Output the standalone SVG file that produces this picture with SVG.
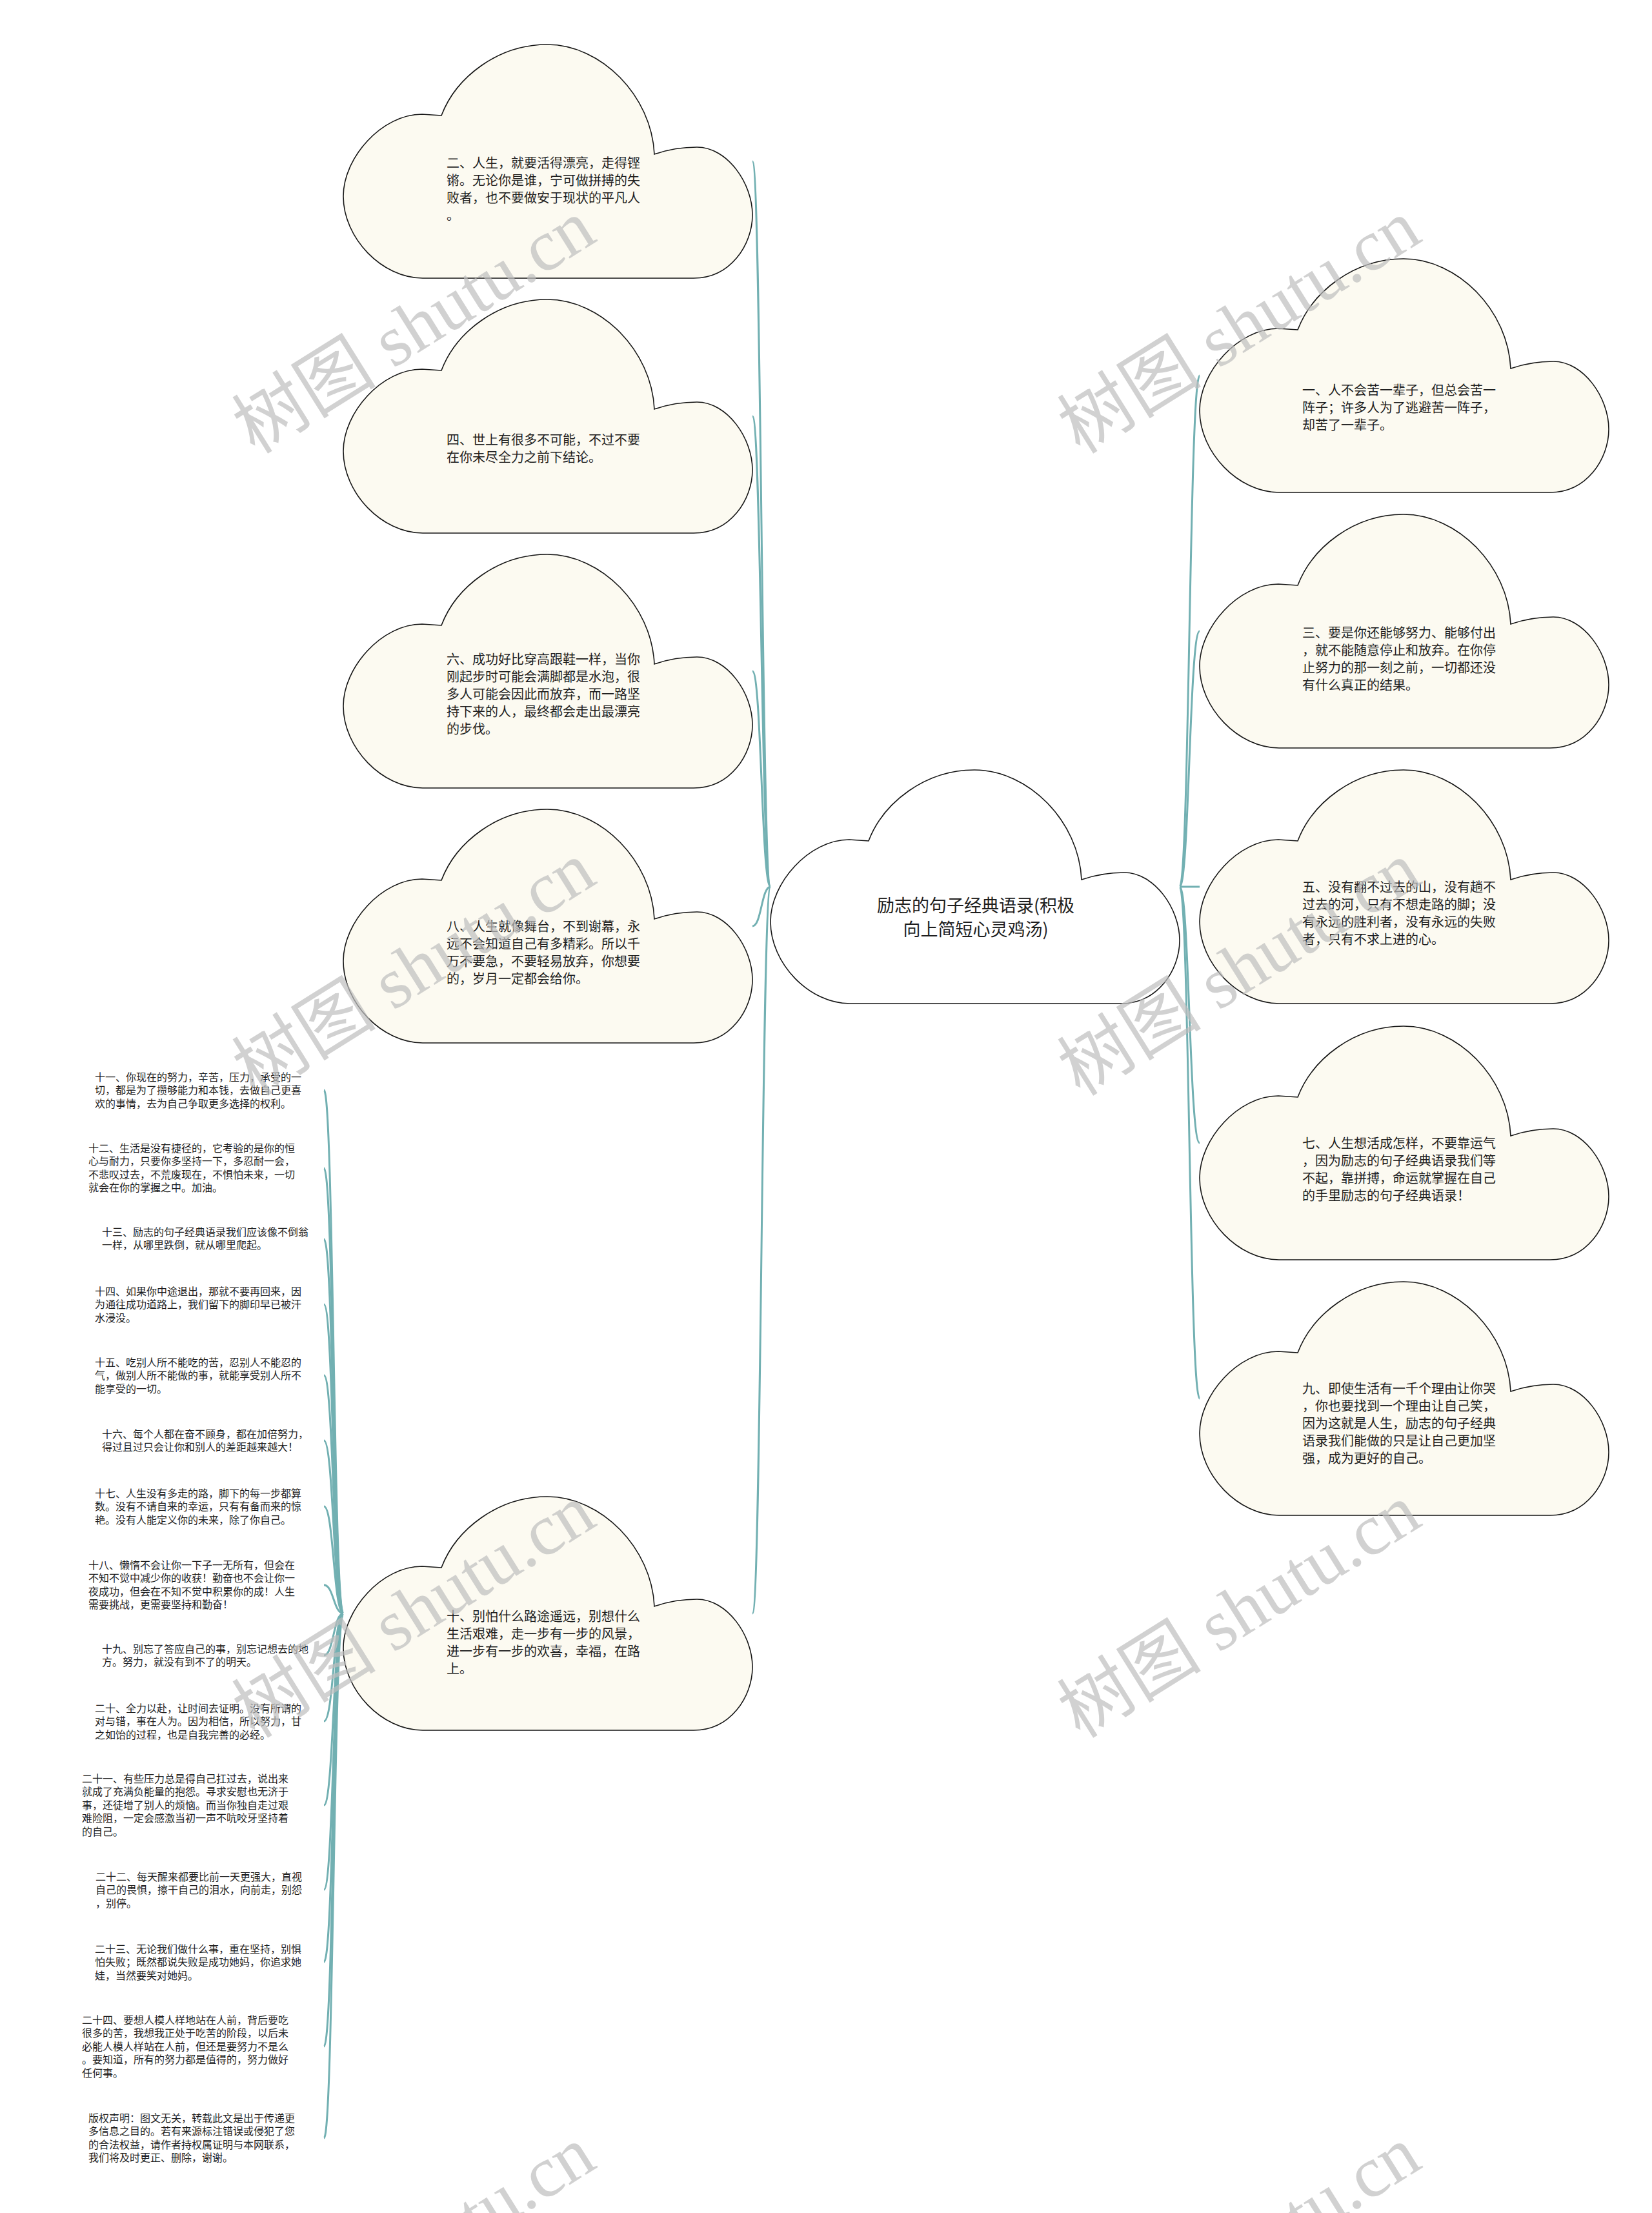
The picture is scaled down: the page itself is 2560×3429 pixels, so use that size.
<svg xmlns="http://www.w3.org/2000/svg" xmlns:xlink="http://www.w3.org/1999/xlink" width="2560" height="3429" viewBox="0 0 2560 3429">
<style>
.bg{fill:#ffffff}
.cloud{fill:#FCFAF1;stroke:#151515;stroke-width:1.6}
.rootc{fill:#ffffff;stroke:#151515;stroke-width:1.6}
.t{font-family:"Noto Sans CJK SC","Noto Sans",sans-serif;font-size:20px;fill:#1e1e1e}
.s{font-family:"Noto Sans CJK SC","Noto Sans",sans-serif;font-size:16px;fill:#1e1e1e}
.c{font-family:"Noto Sans CJK SC","Noto Sans",sans-serif;font-size:27px;fill:#1e1e1e;text-anchor:middle}
.link{fill:none;stroke:#72B0B2;stroke-width:3}
.wm{font-family:"Liberation Serif","Noto Sans CJK SC",serif;font-size:112px;fill:#bdbdbd;fill-opacity:0.7}
</style>
<defs>
<path id="cloud" d="M152,110 C175,50 240,0 316,0 C400,0 478,80 482,170 C505,162 525,159 548,159 C595,159 634,215 634,264 C634,310 600,362 543,362 L123,362 C60,362 0,300 0,235 C0,175 60,108 122,108 Z"/>
</defs>
<rect class="bg" x="0" y="0" width="2560" height="3429"/>

<g id="connectors">
<path class="link" d="M1194,1374 C1180,1374 1180,250 1166,250"/>
<path class="link" d="M1194,1374 C1180,1374 1180,645 1166,645"/>
<path class="link" d="M1194,1374 C1180,1374 1180,1040 1166,1040"/>
<path class="link" d="M1194,1374 C1180,1374 1180,1435 1166,1435"/>
<path class="link" d="M1194,1374 C1180,1374 1180,2500 1166,2500"/>
<path class="link" d="M1828,1374 C1843,1374 1843,582 1859,582"/>
<path class="link" d="M1828,1374 C1843,1374 1843,978 1859,978"/>
<path class="link" d="M1828,1374 C1843,1374 1843,1374 1859,1374"/>
<path class="link" d="M1828,1374 C1843,1374 1843,1771 1859,1771"/>
<path class="link" d="M1828,1374 C1843,1374 1843,2167 1859,2167"/>
<path class="link" d="M532,2500 C517,2500 517,1689 502,1689"/>
<path class="link" d="M532,2500 C517,2500 517,1810 502,1810"/>
<path class="link" d="M532,2500 C517,2500 517,1920 502,1920"/>
<path class="link" d="M532,2500 C517,2500 517,2021 502,2021"/>
<path class="link" d="M532,2500 C517,2500 517,2131 502,2131"/>
<path class="link" d="M532,2500 C517,2500 517,2232 502,2232"/>
<path class="link" d="M532,2500 C517,2500 517,2334 502,2334"/>
<path class="link" d="M532,2500 C517,2500 517,2456 502,2456"/>
<path class="link" d="M532,2500 C517,2500 517,2565 502,2565"/>
<path class="link" d="M532,2500 C517,2500 517,2667 502,2667"/>
<path class="link" d="M532,2500 C517,2500 517,2797 502,2797"/>
<path class="link" d="M532,2500 C517,2500 517,2928 502,2928"/>
<path class="link" d="M532,2500 C517,2500 517,3040 502,3040"/>
<path class="link" d="M532,2500 C517,2500 517,3171 502,3171"/>
<path class="link" d="M532,2500 C517,2500 517,3313 502,3313"/>
</g>

<g id="root" transform="translate(1194,1193)">
<use xlink:href="#cloud" class="rootc"/>
<text class="c" x="318" y="220">励志的句子经典语录(积极</text>
<text class="c" x="318" y="257">向上简短心灵鸡汤)</text>
</g>

<g id="n2" transform="translate(532,69)">
<use xlink:href="#cloud" class="cloud"/>
<text class="t" x="160" y="191"><tspan x="160">二、人生，就要活得漂亮，走得铿</tspan><tspan x="160" dy="27">锵。无论你是谁，宁可做拼搏的失</tspan><tspan x="160" dy="27">败者，也不要做安于现状的平凡人</tspan><tspan x="160" dy="27">。</tspan></text>
</g>
<g id="n4" transform="translate(532,464)">
<use xlink:href="#cloud" class="cloud"/>
<text class="t" x="160" y="225"><tspan x="160">四、世上有很多不可能，不过不要</tspan><tspan x="160" dy="27">在你未尽全力之前下结论。</tspan></text>
</g>
<g id="n6" transform="translate(532,859)">
<use xlink:href="#cloud" class="cloud"/>
<text class="t" x="160" y="170"><tspan x="160">六、成功好比穿高跟鞋一样，当你</tspan><tspan x="160" dy="27">刚起步时可能会满脚都是水泡，很</tspan><tspan x="160" dy="27">多人可能会因此而放弃，而一路坚</tspan><tspan x="160" dy="27">持下来的人，最终都会走出最漂亮</tspan><tspan x="160" dy="27">的步伐。</tspan></text>
</g>
<g id="n8" transform="translate(532,1254)">
<use xlink:href="#cloud" class="cloud"/>
<text class="t" x="160" y="189"><tspan x="160">八、人生就像舞台，不到谢幕，永</tspan><tspan x="160" dy="27">远不会知道自己有多精彩。所以千</tspan><tspan x="160" dy="27">万不要急，不要轻易放弃，你想要</tspan><tspan x="160" dy="27">的，岁月一定都会给你。</tspan></text>
</g>
<g id="n10" transform="translate(532,2319)">
<use xlink:href="#cloud" class="cloud"/>
<text class="t" x="160" y="193"><tspan x="160">十、别怕什么路途遥远，别想什么</tspan><tspan x="160" dy="27">生活艰难，走一步有一步的风景，</tspan><tspan x="160" dy="27">进一步有一步的欢喜，幸福，在路</tspan><tspan x="160" dy="27">上。</tspan></text>
</g>

<g id="n1" transform="translate(1859,401)">
<use xlink:href="#cloud" class="cloud"/>
<text class="t" x="159" y="211"><tspan x="159">一、人不会苦一辈子，但总会苦一</tspan><tspan x="159" dy="27">阵子；许多人为了逃避苦一阵子，</tspan><tspan x="159" dy="27">却苦了一辈子。</tspan></text>
</g>
<g id="n3" transform="translate(1859,797)">
<use xlink:href="#cloud" class="cloud"/>
<text class="t" x="159" y="191"><tspan x="159">三、要是你还能够努力、能够付出</tspan><tspan x="159" dy="27">，就不能随意停止和放弃。在你停</tspan><tspan x="159" dy="27">止努力的那一刻之前，一切都还没</tspan><tspan x="159" dy="27">有什么真正的结果。</tspan></text>
</g>
<g id="n5" transform="translate(1859,1193)">
<use xlink:href="#cloud" class="cloud"/>
<text class="t" x="159" y="189"><tspan x="159">五、没有翻不过去的山，没有趟不</tspan><tspan x="159" dy="27">过去的河，只有不想走路的脚；没</tspan><tspan x="159" dy="27">有永远的胜利者，没有永远的失败</tspan><tspan x="159" dy="27">者，只有不求上进的心。</tspan></text>
</g>
<g id="n7" transform="translate(1859,1590)">
<use xlink:href="#cloud" class="cloud"/>
<text class="t" x="159" y="189"><tspan x="159">七、人生想活成怎样，不要靠运气</tspan><tspan x="159" dy="27">，因为励志的句子经典语录我们等</tspan><tspan x="159" dy="27">不起，靠拼搏，命运就掌握在自己</tspan><tspan x="159" dy="27">的手里励志的句子经典语录！</tspan></text>
</g>
<g id="n9" transform="translate(1859,1986)">
<use xlink:href="#cloud" class="cloud"/>
<text class="t" x="159" y="173"><tspan x="159">九、即使生活有一千个理由让你哭</tspan><tspan x="159" dy="27">，你也要找到一个理由让自己笑，</tspan><tspan x="159" dy="27">因为这就是人生，励志的句子经典</tspan><tspan x="159" dy="27">语录我们能做的只是让自己更加坚</tspan><tspan x="159" dy="27">强，成为更好的自己。</tspan></text>
</g>

<g id="n11"><text class="s" x="147" y="1675"><tspan x="147">十一、你现在的努力，辛苦，压力，承受的一</tspan><tspan x="147" dy="20.4">切，都是为了攒够能力和本钱，去做自己更喜</tspan><tspan x="147" dy="20.4">欢的事情，去为自己争取更多选择的权利。</tspan></text></g>
<g id="n12"><text class="s" x="137" y="1785"><tspan x="137">十二、生活是没有捷径的，它考验的是你的恒</tspan><tspan x="137" dy="20.4">心与耐力，只要你多坚持一下，多忍耐一会，</tspan><tspan x="137" dy="20.4">不悲叹过去，不荒废现在，不惧怕未来，一切</tspan><tspan x="137" dy="20.4">就会在你的掌握之中。加油。</tspan></text></g>
<g id="n13"><text class="s" x="158" y="1915"><tspan x="158">十三、励志的句子经典语录我们应该像不倒翁</tspan><tspan x="158" dy="20.4">一样，从哪里跌倒，就从哪里爬起。</tspan></text></g>
<g id="n14"><text class="s" x="147" y="2007"><tspan x="147">十四、如果你中途退出，那就不要再回来，因</tspan><tspan x="147" dy="20.4">为通往成功道路上，我们留下的脚印早已被汗</tspan><tspan x="147" dy="20.4">水浸没。</tspan></text></g>
<g id="n15"><text class="s" x="147" y="2117"><tspan x="147">十五、吃别人所不能吃的苦，忍别人不能忍的</tspan><tspan x="147" dy="20.4">气，做别人所不能做的事，就能享受别人所不</tspan><tspan x="147" dy="20.4">能享受的一切。</tspan></text></g>
<g id="n16"><text class="s" x="158" y="2228"><tspan x="158">十六、每个人都在奋不顾身，都在加倍努力，</tspan><tspan x="158" dy="20.4">得过且过只会让你和别人的差距越来越大！</tspan></text></g>
<g id="n17"><text class="s" x="147" y="2320"><tspan x="147">十七、人生没有多走的路，脚下的每一步都算</tspan><tspan x="147" dy="20.4">数。没有不请自来的幸运，只有有备而来的惊</tspan><tspan x="147" dy="20.4">艳。没有人能定义你的未来，除了你自己。</tspan></text></g>
<g id="n18"><text class="s" x="137" y="2431"><tspan x="137">十八、懒惰不会让你一下子一无所有，但会在</tspan><tspan x="137" dy="20.4">不知不觉中减少你的收获！勤奋也不会让你一</tspan><tspan x="137" dy="20.4">夜成功，但会在不知不觉中积累你的成！人生</tspan><tspan x="137" dy="20.4">需要挑战，更需要坚持和勤奋！</tspan></text></g>
<g id="n19"><text class="s" x="158" y="2561"><tspan x="158">十九、别忘了答应自己的事，别忘记想去的地</tspan><tspan x="158" dy="20.4">方。努力，就没有到不了的明天。</tspan></text></g>
<g id="n20"><text class="s" x="147" y="2653"><tspan x="147">二十、全力以赴，让时间去证明。没有所谓的</tspan><tspan x="147" dy="20.4">对与错，事在人为。因为相信，所以努力，甘</tspan><tspan x="147" dy="20.4">之如饴的过程，也是自我完善的必经。</tspan></text></g>
<g id="n21"><text class="s" x="127" y="2762"><tspan x="127">二十一、有些压力总是得自己扛过去，说出来</tspan><tspan x="127" dy="20.4">就成了充满负能量的抱怨。寻求安慰也无济于</tspan><tspan x="127" dy="20.4">事，还徒增了别人的烦恼。而当你独自走过艰</tspan><tspan x="127" dy="20.4">难险阻，一定会感激当初一声不吭咬牙坚持着</tspan><tspan x="127" dy="20.4">的自己。</tspan></text></g>
<g id="n22"><text class="s" x="148" y="2914"><tspan x="148">二十二、每天醒来都要比前一天更强大，直视</tspan><tspan x="148" dy="20.4">自己的畏惧，擦干自己的泪水，向前走，别怨</tspan><tspan x="148" dy="20.4">，别停。</tspan></text></g>
<g id="n23"><text class="s" x="147" y="3026"><tspan x="147">二十三、无论我们做什么事，重在坚持，别惧</tspan><tspan x="147" dy="20.4">怕失败；既然都说失败是成功她妈，你追求她</tspan><tspan x="147" dy="20.4">娃，当然要笑对她妈。</tspan></text></g>
<g id="n24"><text class="s" x="127" y="3136"><tspan x="127">二十四、要想人模人样地站在人前，背后要吃</tspan><tspan x="127" dy="20.4">很多的苦，我想我正处于吃苦的阶段，以后未</tspan><tspan x="127" dy="20.4">必能人模人样站在人前，但还是要努力不是么</tspan><tspan x="127" dy="20.4">。要知道，所有的努力都是值得的，努力做好</tspan><tspan x="127" dy="20.4">任何事。</tspan></text></g>
<g id="n25"><text class="s" x="137" y="3288"><tspan x="137">版权声明：图文无关，转载此文是出于传递更</tspan><tspan x="137" dy="20.4">多信息之目的。若有来源标注错误或侵犯了您</tspan><tspan x="137" dy="20.4">的合法权益，请作者持权属证明与本网联系，</tspan><tspan x="137" dy="20.4">我们将及时更正、删除，谢谢。</tspan></text></g>

<g id="watermarks">
<text class="wm" transform="translate(395,705) rotate(-32)">树图 shutu.cn</text>
<text class="wm" transform="translate(1674,705) rotate(-32)">树图 shutu.cn</text>
<text class="wm" transform="translate(395,1700) rotate(-32)">树图 shutu.cn</text>
<text class="wm" transform="translate(1674,1700) rotate(-32)">树图 shutu.cn</text>
<text class="wm" transform="translate(395,2695) rotate(-32)">树图 shutu.cn</text>
<text class="wm" transform="translate(1674,2695) rotate(-32)">树图 shutu.cn</text>
<text class="wm" transform="translate(395,3690) rotate(-32)">树图 shutu.cn</text>
<text class="wm" transform="translate(1674,3690) rotate(-32)">树图 shutu.cn</text>
</g>
</svg>
